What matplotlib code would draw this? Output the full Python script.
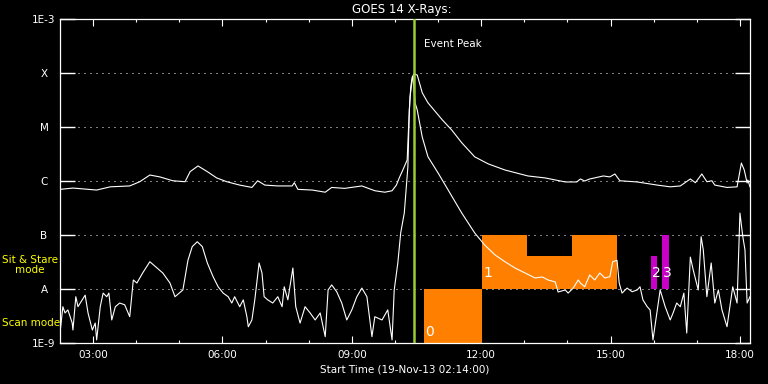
import matplotlib
matplotlib.use('Agg')
import matplotlib.pyplot as plt
from matplotlib.ticker import FixedLocator, NullLocator

# ---------------- data (time in minutes since 19-Nov-13 02:14:00) ----------------
long_t = [0, 18, 51, 70, 97, 111, 125, 139, 157, 174, 181, 192, 205, 218, 232, 250,
          267, 275, 285, 303, 323, 326, 331, 351, 369, 378, 396, 420, 438, 452, 462,
          468, 472, 477, 483, 485, 487, 490, 492, 497, 504, 512, 532, 545, 559, 577,
          596, 619, 651, 675, 703, 719, 724, 730, 737, 756, 765, 772, 779, 803, 831,
          849, 863, 877, 884, 893, 900, 907, 911, 928, 942, 948, 952, 956, 957, 960]
long_f = [7.0e-7, 7.4e-7, 6.8e-7, 7.8e-7, 8.1e-7, 9.7e-7, 1.29e-6, 1.19e-6, 1.01e-6,
          9.7e-7, 1.49e-6, 1.90e-6, 1.49e-6, 1.14e-6, 9.7e-7, 8.4e-7,
          7.6e-7, 1.01e-6, 8.4e-7, 8.1e-7, 8.1e-7, 9.3e-7, 7.0e-7, 6.8e-7, 6.2e-7,
          7.6e-7, 7.3e-7, 8.1e-7, 6.6e-7, 6.2e-7, 6.6e-7,
          8.4e-7, 1.14e-6, 1.60e-6, 2.45e-6, 1.0e-5, 3.6e-5, 7.4e-5, 9.6e-5, 9.2e-5,
          4.3e-5, 2.8e-5, 1.35e-5, 8.8e-6, 5.1e-6, 2.8e-6,
          2.07e-6, 1.60e-6, 1.24e-6, 1.14e-6, 9.6e-7, 9.6e-7, 1.09e-6, 1.0e-6, 1.09e-6,
          1.24e-6, 1.19e-6, 1.35e-6, 1.01e-6, 9.6e-7, 8.4e-7,
          7.8e-7, 8.1e-7, 1.09e-6, 9.3e-7, 1.35e-6, 9.7e-7, 1.01e-6, 8.4e-7, 7.6e-7,
          7.8e-7, 2.15e-6, 1.60e-6, 9.2e-7, 1.04e-6, 7.8e-7]

short_t = [0, 4, 7, 11, 17, 18, 22, 25, 31, 35, 39, 45, 49, 51, 56, 60, 65, 68, 72, 77,
           83, 90, 97, 102, 107, 115, 125, 135, 143, 153, 160, 171, 178, 184, 191, 198,
           205, 213, 220, 227, 234, 239, 243, 250, 255, 260, 262, 267, 271, 277, 281,
           284, 289, 296, 303, 309, 312, 317, 324, 328, 334, 341, 348, 355, 362, 369,
           373, 378, 385, 392, 399, 406, 413, 420, 427, 434, 438, 448, 456, 462, 465,
           470, 474, 479, 484, 486, 488, 490, 491, 494, 497, 504, 512, 526, 540, 559,
           577, 591, 605, 619, 633, 647, 661, 671, 679, 689, 693, 703, 707, 714, 721,
           724, 730, 737, 744, 751, 758, 765, 769, 775, 778, 782, 789, 796, 803, 807,
           811, 817, 821, 825, 831, 835, 842, 849, 853, 858, 863, 868, 872, 877, 881,
           888, 892, 895, 900, 906, 911, 916, 921, 928, 932, 936, 942, 946, 950, 953,
           956, 960]
short_f = [1.53e-9, 4.7e-9, 3.6e-9, 4.1e-9, 2.34e-9, 1.74e-9, 7.2e-9, 4.7e-9, 6.3e-9,
           7.7e-9, 3.6e-9, 1.74e-9, 2.34e-9, 1.14e-9, 4.7e-9, 8.4e-9, 7.2e-9, 8.4e-9,
           2.67e-9, 4.7e-9, 5.5e-9, 5.1e-9, 3.07e-9, 1.47e-8, 1.29e-8, 1.98e-8, 3.2e-8,
           2.45e-8, 1.98e-8, 1.29e-8, 7.2e-9, 9.6e-9, 3.4e-8, 6.1e-8, 7.5e-8, 6.1e-8,
           3.03e-8, 1.69e-8, 1.10e-8, 8.4e-9, 7.2e-9, 5.5e-9, 7.2e-9, 4.7e-9, 6.3e-9,
           3.07e-9, 2.0e-9, 2.67e-9, 6.3e-9, 3.03e-8, 1.98e-8,
           7.2e-9, 6.3e-9, 5.5e-9, 7.2e-9, 4.7e-9, 1.10e-8, 6.3e-9, 2.45e-8, 4.7e-9,
           2.34e-9, 4.7e-9, 3.6e-9, 2.67e-9, 3.6e-9, 1.31e-9,
           9.6e-9, 1.19e-8, 8.9e-9, 5.5e-9, 2.67e-9, 4.1e-9, 7.2e-9, 1.04e-8, 7.2e-9,
           1.31e-9, 3.07e-9, 2.67e-9, 4.1e-9, 1.14e-9, 9.6e-9,
           3.03e-8, 1.09e-7, 2.55e-7, 1.82e-6, 2.07e-5, 5.5e-5, 8.4e-5, 8.8e-5, 2.8e-5,
           2.07e-5, 6.5e-6, 2.8e-6, 1.41e-6, 6.8e-7, 2.55e-7,
           1.09e-7, 6.5e-8, 4.3e-8, 3.2e-8, 2.45e-8, 1.98e-8, 1.60e-8, 1.67e-8, 1.47e-8,
           1.35e-8, 8.8e-9, 9.6e-9, 8.4e-9, 1.04e-8, 1.47e-8,
           1.29e-8, 1.10e-8, 1.82e-8, 1.47e-8, 1.98e-8, 1.60e-8, 1.69e-8, 3.2e-8, 3.4e-8,
           1.29e-8, 8.4e-9, 1.04e-8, 8.9e-9, 9.6e-9, 1.10e-8,
           6.3e-9, 4.7e-9, 4.1e-9, 1.14e-9, 4.1e-9, 9.6e-9, 4.7e-9, 2.67e-9, 3.6e-9,
           5.5e-9, 4.7e-9, 8.4e-9, 1.53e-9, 3.9e-8, 2.25e-8,
           9.6e-9, 9.3e-8, 5.3e-8, 7.2e-9, 3.03e-8, 5.5e-9, 9.6e-9, 4.1e-9, 2.0e-9,
           4.7e-9, 1.10e-8, 5.5e-9, 2.55e-7, 9.3e-8, 5.3e-8,
           5.5e-9, 7.2e-9]

peak_t = 492.5

# observing blocks
scan_start = [506]
scan_end = [587]
scan_labels = ['0']
stare_start = [587, 650, 712]
stare_end = [650, 712, 775]
stare_top = [1e-7, 4.1e-8, 1e-7]
stare_labels = ['1', '', '']
other_start = [822, 838]
other_end = [831, 847]
other_top = [4.1e-8, 1e-7]
other_labels = ['2', '3']

xtick_pos = [46, 226, 406, 586, 766, 946]
xtick_labels = ['03:00', '06:00', '09:00', '12:00', '15:00', '18:00']
xminor_pos = [46 + 60 * k for k in range(16)]
ytick_vals = [1e-9, 1e-8, 1e-7, 1e-6, 1e-5, 1e-4, 1e-3]
ytick_labels = ['1E-9', 'A', 'B', 'C', 'M', 'X', '1E-3']

ORANGE = '#ff8000'
MAGENTA = '#c800c8'
PEAK = '#9acd32'

plt.rcParams['font.family'] = ['DejaVu Sans']
fig = plt.figure(figsize=(7.68, 3.84), dpi=100, facecolor='black')
ax = fig.add_axes([60 / 768, 41 / 384, 690 / 768, 324 / 384], facecolor='black')
ax.set_yscale('log')
ax.set_xlim(0, 960)
ax.set_ylim(1e-9, 1e-3)

# grid
for v in ytick_vals[1:-1]:
    ax.axhline(v, color='white', lw=0.72, ls=(0, (1, 5)), zorder=1)

# blocks
ax.bar(scan_start, [1e-8 - 1e-9] * len(scan_start),
       width=[e - s for s, e in zip(scan_start, scan_end)], bottom=1e-9,
       align='edge', color=ORANGE, lw=0, zorder=2)
ax.bar(stare_start, [t - 1e-8 for t in stare_top],
       width=[e - s for s, e in zip(stare_start, stare_end)], bottom=1e-8,
       align='edge', color=ORANGE, lw=0, zorder=2)
ax.bar(other_start, [t - 1e-8 for t in other_top],
       width=[e - s for s, e in zip(other_start, other_end)], bottom=1e-8,
       align='edge', color=MAGENTA, lw=0, zorder=2)

lab_kw = dict(color='white', fontsize=10, ha='left', va='center', zorder=5)
for s, l in zip(scan_start, scan_labels):
    ax.annotate(l, xy=(s, 1.6e-9), xytext=(1, 0), textcoords='offset points', **lab_kw)
for s, l in zip(stare_start, stare_labels):
    if l:
        ax.annotate(l, xy=(s, 2.0e-8), xytext=(1, 0), textcoords='offset points', **lab_kw)
for s, l in zip(other_start, other_labels):
    ax.annotate(l, xy=(s, 2.0e-8), xytext=(0.5, 0), textcoords='offset points', **lab_kw)

# curves
ax.plot(long_t, long_f, color='white', lw=0.8, zorder=3)
ax.plot(short_t, short_f, color='white', lw=0.8, zorder=3)

# event peak
ax.axvline(peak_t, color=PEAK, lw=1.8, zorder=4)
ax.annotate('Event Peak', xy=(peak_t, 1), xycoords=('data', 'axes fraction'),
            xytext=(7, -18), textcoords='offset points', color='white',
            fontsize=7.5, ha='left', va='center')

# axes styling
for sp in ax.spines.values():
    sp.set_color('white')
    sp.set_linewidth(0.9)
ax.xaxis.set_major_locator(FixedLocator(xtick_pos))
ax.xaxis.set_minor_locator(FixedLocator(xminor_pos))
ax.set_xticklabels(xtick_labels)
ax.yaxis.set_major_locator(FixedLocator(ytick_vals))
ax.yaxis.set_minor_locator(NullLocator())
ax.set_yticklabels(ytick_labels)
ax.tick_params(axis='x', which='major', direction='in', length=5, width=0.8,
               colors='white', top=True, labelsize=7.5, pad=5)
ax.tick_params(axis='x', which='minor', direction='in', length=2.2, width=0.8,
               colors='white', top=True)
ax.tick_params(axis='y', which='major', direction='in', length=10.5, width=1.0,
               colors='white', right=True, labelsize=7.5, pad=11.5)
for lbl in ax.get_yticklabels():
    lbl.set_ha('center')

fig.text(402 / 768, 1 - 9 / 384, 'GOES 14 X-Rays:', color='white', fontsize=8.5,
         ha='center', va='center')
fig.text(405 / 768, 1 - 369 / 384, 'Start Time (19-Nov-13 02:14:00)', color='white',
         fontsize=7.5, ha='center', va='center')
fig.text(2 / 768, 1 - 265 / 384, 'Sit & Stare\nmode', color='yellow', fontsize=7.5,
         ha='left', va='center', multialignment='center', linespacing=1.1)
fig.text(2 / 768, 1 - 323 / 384, 'Scan mode', color='yellow', fontsize=7.5,
         ha='left', va='center')

fig.savefig('out.png', dpi=100, facecolor='black')
